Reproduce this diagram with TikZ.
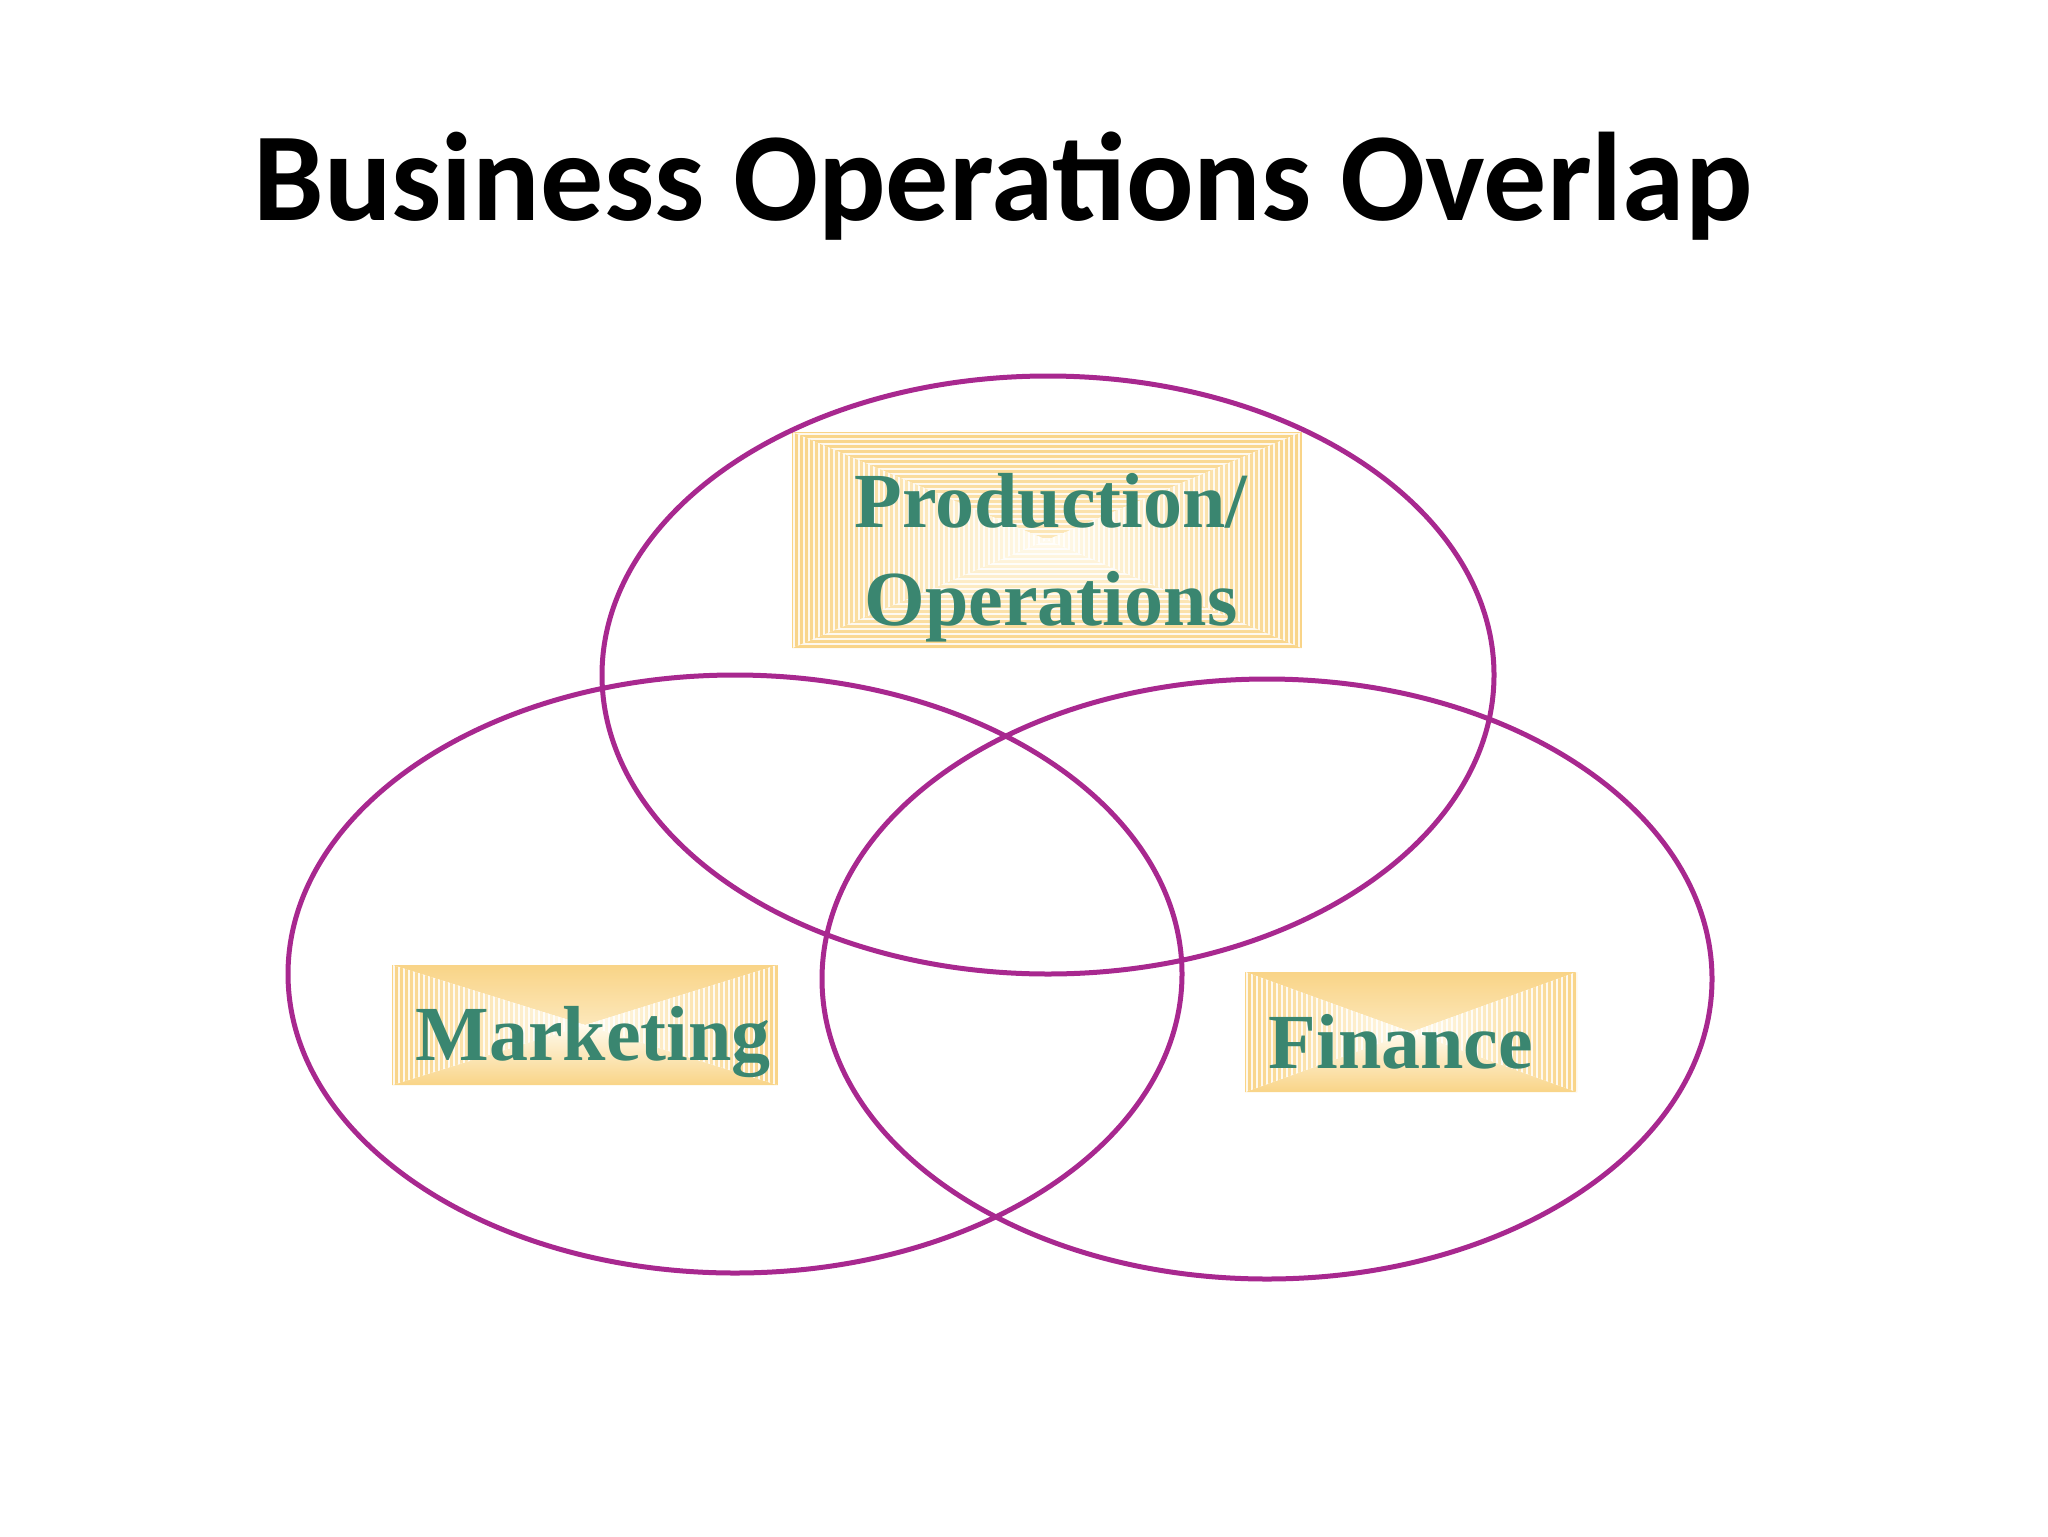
\documentclass[tikz,border=0pt]{standalone}
\usepackage{fontspec}
\usetikzlibrary{shapes.geometric}
\newfontfamily\titlefont{Carlito}
\newfontfamily\labelfont{Liberation Serif}
\definecolor{vennline}{RGB}{168,40,143}
\definecolor{labeltext}{RGB}{58,134,112}
\definecolor{boxedge}{RGB}{249,212,135}
\definecolor{boxmid}{RGB}{255,251,238}
\tikzset{
  venn/.style={ellipse, draw=vennline, line width=2.5pt, inner sep=0pt},
  envbox/.style={rectangle, inner sep=0pt, path picture={
    \path[top color=boxedge, bottom color=boxmid]
      (path picture bounding box.north west) -- (path picture bounding box.north east) -- (path picture bounding box.center) -- cycle;
    \path[bottom color=boxedge, top color=boxmid]
      (path picture bounding box.south west) -- (path picture bounding box.south east) -- (path picture bounding box.center) -- cycle;
    \path[left color=boxedge, right color=boxmid]
      (path picture bounding box.north west) -- (path picture bounding box.south west) -- (path picture bounding box.center) -- cycle;
    \path[right color=boxedge, left color=boxmid]
      (path picture bounding box.north east) -- (path picture bounding box.south east) -- (path picture bounding box.center) -- cycle;
  }},
  stripe/.style={white, line width=0.9pt, opacity=0.85},
  lbl/.style={anchor=base, inner sep=0pt, text=labeltext, font=\labelfont\bfseries\fontsize{39}{48}\selectfont},
}
% vertical white stripes in the left and right triangles of a box
\newcommand\sidestripes[2]{%
  \begin{scope}
    \clip (#1.north west) -- (#1.center) -- (#1.south west) -- cycle
          (#1.north east) -- (#1.center) -- (#1.south east) -- cycle;
    \foreach \k in {0,...,#2}
      \draw[stripe] ([xshift=\k*2.5pt+1pt]#1.north west) -- ([xshift=\k*2.5pt+1pt]#1.south west);
  \end{scope}}
% horizontal white stripes in the top and bottom triangles of a box
\newcommand\capstripes[2]{%
  \begin{scope}
    \clip (#1.north west) -- (#1.center) -- (#1.north east) -- cycle
          (#1.south west) -- (#1.center) -- (#1.south east) -- cycle;
    \foreach \k in {0,...,#2}
      \draw[stripe] ([yshift=-\k*2.5pt-1pt]#1.north west) -- ([yshift=-\k*2.5pt-1pt]#1.north east);
  \end{scope}}
\begin{document}
\begin{tikzpicture}[x=0.5pt, y=-0.5pt]
\useasboundingbox (0,0) rectangle (2048,1536);
% title
\node[anchor=base, inner sep=0pt, font=\titlefont\bfseries\fontsize{63}{76}\selectfont] (title) at (1003,220) {Business Operations Overlap};
% label boxes
\node[envbox, minimum width=255pt, minimum height=108pt] (pbox) at (1047,540) {};
\node[envbox, minimum width=193pt, minimum height=60pt] (mbox) at (585,1025) {};
\node[envbox, minimum width=166pt, minimum height=60pt] (fbox) at (1411,1032) {};
\sidestripes{pbox}{102}
\capstripes{pbox}{43}
\sidestripes{mbox}{77}
\sidestripes{fbox}{66}
% labels
\node[lbl] (prod1) at (1051,527) {Production/};
\node[lbl] (prod2) at (1051,625) {Operations};
\node[lbl] (mark) at (593,1060) {Marketing};
\node[lbl] (fin) at (1401,1068) {Finance};
% ellipses
\node[venn, minimum width=446pt, minimum height=299pt] (top) at (1048,675) {};
\node[venn, minimum width=447pt, minimum height=299pt] (left) at (735,974) {};
\node[venn, minimum width=445pt, minimum height=300pt] (right) at (1267,979) {};
\end{tikzpicture}
\end{document}
